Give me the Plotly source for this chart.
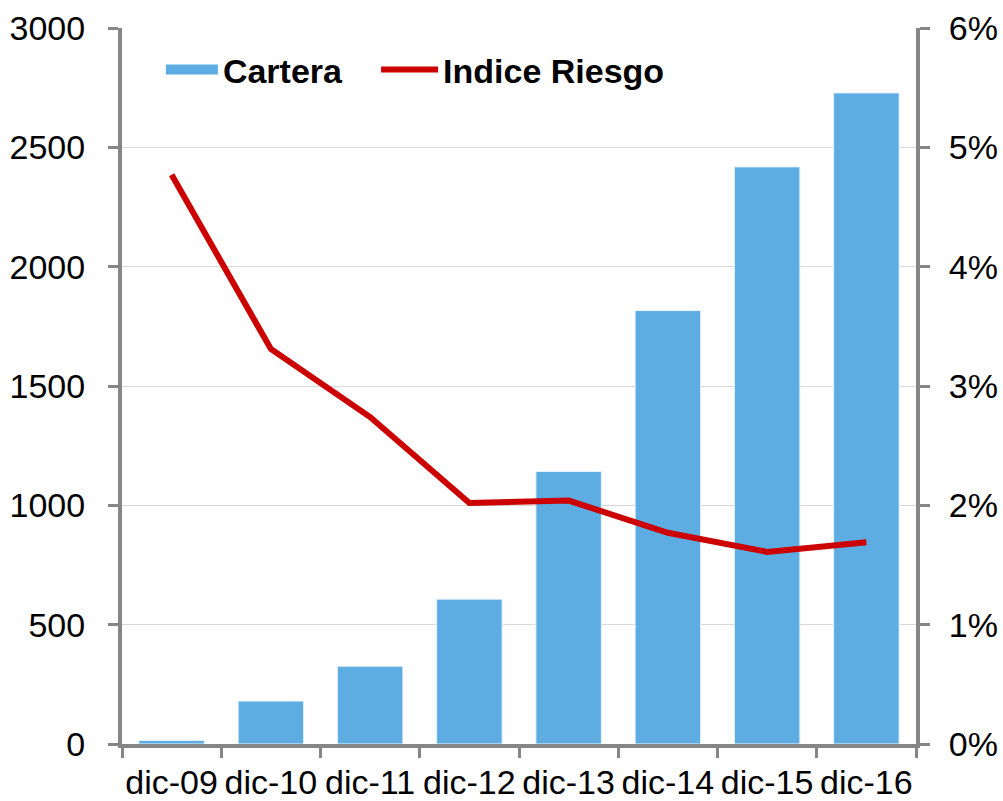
import plotly.graph_objects as go

categories = ["dic-09", "dic-10", "dic-11", "dic-12", "dic-13", "dic-14", "dic-15", "dic-16"]
cartera = [15, 180, 326, 607, 1142, 1816, 2418, 2728]
indice_riesgo = [0.0477, 0.0331, 0.0274, 0.0202, 0.0204, 0.0177, 0.0161, 0.0169]
left_ticks = [0, 500, 1000, 1500, 2000, 2500, 3000]
right_ticks = [0, 0.01, 0.02, 0.03, 0.04, 0.05, 0.06]

BLUE = "#5DADE2"
RED = "#CC0000"
AXIS = "#868686"
FONT = "Liberation Sans, Arial, sans-serif"
FS = 34

fig = go.Figure()
fig.add_trace(go.Bar(x=categories, y=cartera, name="Cartera", marker=dict(color=BLUE, line=dict(color="#E8F3FB", width=1)),
                     showlegend=False, yaxis="y"))
# legend key for bars (wide rectangle look)
fig.add_trace(go.Scatter(x=[None], y=[None], mode="lines", name="Cartera",
                         line=dict(color=BLUE, width=18), yaxis="y", showlegend=True, legend="legend"))
fig.add_trace(go.Scatter(x=categories, y=indice_riesgo, name="Indice Riesgo", mode="lines",
                         line=dict(color=RED, width=6), yaxis="y2", legend="legend2"))

legend_common = dict(orientation="h", yanchor="top", xanchor="left", y=0.982,
                     font=dict(family=FONT, size=FS, color="black", weight="bold"),
                     bgcolor="rgba(0,0,0,0)")

fig.update_layout(
    width=1003, height=801,
    margin=dict(l=122, r=87, t=28, b=57),
    paper_bgcolor="white", plot_bgcolor="white",
    font=dict(family=FONT, size=FS, color="black"),
    bargap=0.34,
    legend=dict(x=0.049, itemwidth=52, **legend_common),
    legend2=dict(x=0.320, itemwidth=57, **legend_common),
    xaxis=dict(type="category", range=[-0.5, 7.5], showline=True, linecolor=AXIS, linewidth=4,
               ticks="outside", ticklen=10, tickwidth=3, tickcolor=AXIS, tickson="boundaries",
               showgrid=False, tickfont=dict(size=FS), tickangle=0, automargin=False,
               ticklabelstandoff=5),
    yaxis=dict(range=[0, 3000], tickvals=left_ticks, showline=True, linecolor=AXIS, linewidth=4,
               ticks="outside", ticklen=10, tickwidth=3, tickcolor=AXIS,
               showgrid=True, gridcolor="#D9D9D9", gridwidth=1, zeroline=False,
               tickfont=dict(size=FS), ticklabelstandoff=16, automargin=False),
    yaxis2=dict(range=[0, 0.06], tickvals=right_ticks, tickformat=".0%", overlaying="y", side="right",
                showline=True, linecolor=AXIS, linewidth=4, ticks="outside", ticklen=10, tickwidth=3,
                tickcolor=AXIS, showgrid=False, zeroline=False, tickfont=dict(size=FS), ticklabelstandoff=12,
                automargin=False),
    yaxis3=dict(range=[0, 0.06], tickvals=right_ticks, overlaying="y", side="right",
                showline=False, ticks="inside", ticklen=10, tickwidth=3, tickcolor=AXIS,
                showticklabels=False, showgrid=False, zeroline=False, automargin=False),
)

fig.write_html("out.html", config={"displayModeBar": False},
               post_script="document.body.style.margin='0';document.body.style.overflow='hidden';")
